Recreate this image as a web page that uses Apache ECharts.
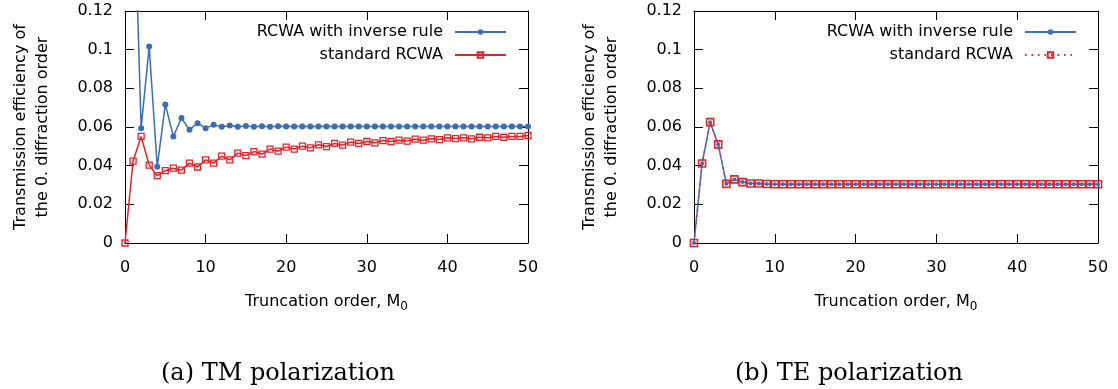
<!DOCTYPE html>
<html>
<head>
<meta charset="utf-8">
<script src="https://cdn.jsdelivr.net/npm/echarts@6/dist/echarts.min.js"></script>
<style>
html,body{margin:0;padding:0;background:#fff;}
#chart{width:1118px;height:389px;}
</style>
</head>
<body>
<div id="chart"></div>
<script>
// ---- data ----
const orders = [0,1,2,3,4,5,6,7,8,9,10,11,12,13,14,15,16,17,18,19,20,21,22,23,24,25,26,27,28,29,30,31,32,33,34,35,36,37,38,39,40,41,42,43,44,45,46,47,48,49,50];

const xTicks = [0,10,20,30,40,50];
const yTicks = [0,0.02,0.04,0.06,0.08,0.1,0.12];

const seriesNames = ['RCWA with inverse rule', 'standard RCWA'];
const captions = ['(a) TM polarization', '(b) TE polarization'];

// TM polarization
const tmInverse = [null,0.200,0.0594,0.1016,0.0394,0.0717,0.0551,0.0646,0.0586,0.0620,
  0.0594,0.0611,0.0601,0.0608,0.0601,0.0605,0.0601,0.0604,0.0601,0.0604,
  0.0602,0.0603,0.0602,0.0603,0.0602,0.0603,0.0602,0.0603,0.0602,0.0602,
  0.0602,0.0602,0.0602,0.0602,0.0602,0.0602,0.0602,0.0602,0.0602,0.0602,
  0.0602,0.0602,0.0602,0.0602,0.0602,0.0602,0.0602,0.0602,0.0602,0.0602,0.0602];
const tmStandard = [0,0.0424,0.0551,0.0403,0.0348,0.0374,0.0387,0.0377,0.0413,0.0393,
  0.0430,0.0413,0.0449,0.0430,0.0465,0.0452,0.0473,0.0460,0.0486,0.0475,
  0.0496,0.0486,0.0501,0.0492,0.0508,0.0499,0.0515,0.0506,0.0522,0.0515,
  0.0525,0.0518,0.0530,0.0525,0.0532,0.0527,0.0537,0.0532,0.0539,0.0535,
  0.0544,0.0540,0.0544,0.0539,0.0547,0.0544,0.0551,0.0547,0.0551,0.0551,0.0556];

// TE polarization
const teInverse = [0,0.0411,0.0625,0.0510,0.0306,0.0329,0.0315,0.0308,0.0308,0.0305,
  0.0304,0.0304,0.0304,0.0304,0.0304,0.0304,0.0304,0.0304,0.0304,0.0304,
  0.0304,0.0304,0.0304,0.0304,0.0304,0.0304,0.0304,0.0304,0.0304,0.0304,
  0.0304,0.0304,0.0304,0.0304,0.0304,0.0304,0.0304,0.0304,0.0304,0.0304,
  0.0304,0.0304,0.0304,0.0304,0.0304,0.0304,0.0304,0.0304,0.0304,0.0304,0.0304];
const teStandard = [0,0.0411,0.0625,0.0510,0.0306,0.0329,0.0315,0.0308,0.0308,0.0305,
  0.0304,0.0304,0.0304,0.0304,0.0304,0.0304,0.0304,0.0304,0.0304,0.0304,
  0.0304,0.0304,0.0304,0.0304,0.0304,0.0304,0.0304,0.0304,0.0304,0.0304,
  0.0304,0.0304,0.0304,0.0304,0.0304,0.0304,0.0304,0.0304,0.0304,0.0304,
  0.0304,0.0304,0.0304,0.0304,0.0304,0.0304,0.0304,0.0304,0.0304,0.0304,0.0304];

// ---- styling ----
const FONT = 'DejaVu Sans';
const BLUE = '#3b6cb6';
const RED = '#e3232a';
const pairs = (ys) => orders.map((x, i) => [x, ys[i]]);

const xMin = xTicks[0], xMax = xTicks[xTicks.length-1], xInt = xTicks[1]-xTicks[0];
const yMin = yTicks[0], yMax = yTicks[yTicks.length-1], yInt = yTicks[1]-yTicks[0];

function xAx(grid, pos, labels) {
  return {
    type: 'value', gridIndex: grid, position: pos, min: xMin, max: xMax, interval: xInt,
    axisLine: {show: true, onZero: false, lineStyle: {color: '#000', width: 1}},
    axisTick: {show: true, inside: true, length: 9, lineStyle: {color: '#000'}},
    axisLabel: {show: labels, margin: 17, color: '#000', fontFamily: FONT, fontSize: 16},
    splitLine: {show: false},
    name: labels ? 'Truncation order, M{s|0}' : '',
    nameLocation: 'middle', nameGap: 48,
    nameTextStyle: {color: '#000', fontFamily: FONT, fontSize: 16,
      rich: {s: {fontFamily: FONT, fontSize: 12, color: '#000', padding: [10, 0, 0, 0]}}}
  };
}
function yAx(grid, pos, labels) {
  return {
    type: 'value', gridIndex: grid, position: pos, min: yMin, max: yMax, interval: yInt,
    axisLine: {show: true, onZero: false, lineStyle: {color: '#000', width: 1}},
    axisTick: {show: true, inside: true, length: 9, lineStyle: {color: '#000'}},
    axisLabel: {show: labels, margin: 12, color: '#000', fontFamily: FONT, fontSize: 16},
    splitLine: {show: false},
    name: labels ? 'Transmission efficiency of\nthe 0. diffraction order' : '',
    nameLocation: 'middle', nameGap: 71,
    nameTextStyle: {color: '#000', fontFamily: FONT, fontSize: 16, lineHeight: 22}
  };
}

function legend(right, dotted) {
  return {
    orient: 'vertical', align: 'right', right: right, top: 24, padding: 0,
    itemWidth: 51, itemHeight: 7, itemGap: 7, selectedMode: false,
    textStyle: {color: '#000', fontFamily: FONT, fontSize: 16, padding: [0, 7, 0, 0]},
    data: [
      {name: seriesNames[0]},
      dotted ? {name: seriesNames[1], lineStyle: {type: [1.5, 5]}} : {name: seriesNames[1]}
    ]
  };
}

const capStyle = {fontFamily: 'DejaVu Serif', fontSize: 24, fontWeight: 'normal', color: '#000'};

const option = {
  animation: false,
  backgroundColor: '#fff',
  title: [
    {text: captions[0], left: 278, top: 362, padding: 0, textAlign: 'center', textStyle: capStyle},
    {text: captions[1], left: 849, top: 362, padding: 0, textAlign: 'center', textStyle: capStyle}
  ],
  legend: [legend(611, false), legend(41, true)],
  grid: [
    {left: 125, top: 11, width: 403, height: 232},
    {left: 694, top: 11, width: 404, height: 232}
  ],
  xAxis: [xAx(0, 'bottom', true), xAx(0, 'top', false), xAx(1, 'bottom', true), xAx(1, 'top', false)],
  yAxis: [yAx(0, 'left', true), yAx(0, 'right', false), yAx(1, 'left', true), yAx(1, 'right', false)],
  series: [
    {name: seriesNames[0], type: 'line', xAxisIndex: 0, yAxisIndex: 0, data: pairs(tmInverse),
     symbol: 'circle', symbolSize: 6, connectNulls: false,
     lineStyle: {color: BLUE, width: 1.5}, itemStyle: {color: BLUE}},
    {name: seriesNames[1], type: 'line', xAxisIndex: 0, yAxisIndex: 0, data: pairs(tmStandard),
     symbol: 'rect', symbolSize: 6,
     lineStyle: {color: RED, width: 1.5}, itemStyle: {color: 'rgba(255,255,255,0)', borderColor: RED, borderWidth: 1.3}},
    {name: seriesNames[0], type: 'line', xAxisIndex: 2, yAxisIndex: 2, data: pairs(teInverse),
     symbol: 'circle', symbolSize: 4,
     lineStyle: {color: BLUE, width: 1.5}, itemStyle: {color: BLUE}},
    {name: seriesNames[1], type: 'line', xAxisIndex: 2, yAxisIndex: 2, data: pairs(teStandard),
     symbol: 'rect', symbolSize: 7,
     lineStyle: {color: RED, width: 1.5, type: [1.5, 5]}, itemStyle: {color: 'rgba(255,255,255,0)', borderColor: RED, borderWidth: 1.6}}
  ]
};

const chart = echarts.init(document.getElementById('chart'), null, {renderer: 'canvas'});
chart.setOption(option);
</script>
</body>
</html>
